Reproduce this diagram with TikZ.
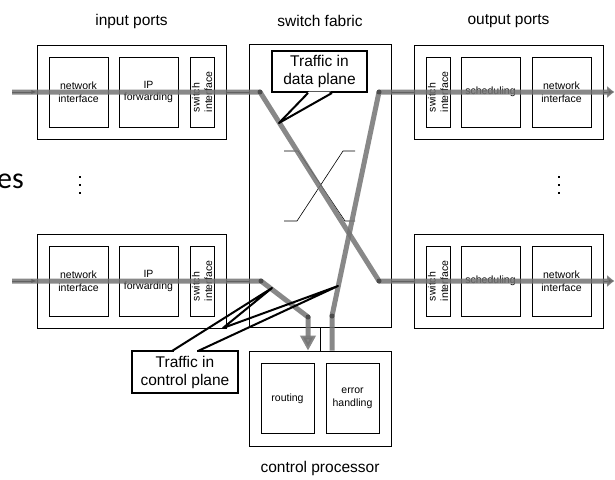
\documentclass[tikz,border=0pt]{standalone}
\usepackage{fontspec}
\setmainfont{Liberation Sans}
\newfontfamily\slidefont{Carlito}
\usetikzlibrary{arrows.meta,calc}
\tikzset{>=latex,
  outer/.style={draw,line width=0.8pt,minimum width=189pt,minimum height=94pt,inner sep=0pt},
  unit/.style={draw,line width=0.8pt,minimum width=#1,minimum height=70pt,inner sep=0pt,
    align=center,font=\fontsize{10.5}{12.5}\selectfont},
  unit/.default=59pt,
  vunit/.style={unit,rotate=90,minimum width=70pt,minimum height=24pt,align=left},
  lbl/.style={inner sep=0pt,font=\fontsize{15.5}{18}\selectfont},
  link/.style={line width=0.8pt},
  traffic/.style={draw=black!55,opacity=.85,line width=5pt,line join=round},
  callout/.style={draw,fill=white,line width=2pt,inner sep=0pt,align=center,
    font=\fontsize{15.5}{18}\selectfont},
  pointer/.style={line width=2pt,line join=round}
}

\begin{document}
\begin{tikzpicture}[x=1pt,y=-1pt]
    \useasboundingbox (0,0) rectangle (615,479);
    % ports, two rows
    \foreach \r/\y in {A/92,B/281}{
     \node[outer] (in\r) at (131.5,\y) {};
     \node[unit] (nif\r) at (78.5,\y) {network\\interface};
     \node[unit] (ipf\r) at (148.5,\y) {IP\\forwarding};
     \node[vunit] (swi\r) at (202,\y) {switch\\interface};
     \node[outer] (out\r) at (508.5,\y) {};
     \node[vunit] (swo\r) at (438,\y) {switch\\interface};
     \node[unit] (sch\r) at (490.5,\y) {scheduling};
     \node[unit] (nio\r) at (561.5,\y) {network\\interface};}
    \node[draw,line width=0.8pt,minimum width=142pt,minimum height=283pt] (fabric) at (320,185.5) {};
    \node[draw,line width=0.8pt,minimum width=142pt,minimum height=95pt] (ctrl) at (320,398.5) {};
    \node[unit=53pt] (rout) at (287.5,398.5) {routing};
    \node[unit=53pt] (errh) at (352.5,398.5) {error\\handling};
    % titles
    \node[lbl] (inlbl) at (131.5,21) {input ports};
    \node[lbl] (swlbl) at (320,21) {switch fabric};
    \node[lbl] (outlbl) at (508.5,21) {output ports};
    \node[lbl] (ctrllbl) at (320,468) {control processor};
    \node[inner sep=0pt,anchor=base east,font=\slidefont\fontsize{30}{30}\selectfont] (cut) at (24,188) {es};
    \foreach \x in {80,559}{
     \foreach \y in {177,185,193}{
      \fill (\x-1,\y-1) rectangle (\x+1,\y+1);}}
    % thin links
    \coordinate (srcA) at (12,92);
    \coordinate (srcB) at (12,281);
    \coordinate (dstA) at (614,92);
    \coordinate (dstB) at (614,281);
    \foreach \r in {A,B}{
     \draw[link,->] (src\r) -- (in\r.west);
     \draw[link] (in\r.east) -- (in\r.east -| fabric.west);
     \draw[link] (out\r.west -| fabric.east) -- (out\r.west);
     \draw[link,->] (out\r.east) -- (dst\r);}
    \draw[link] (fabric.south) -- (ctrl.north);
    % crossbar
    \draw[line width=0.6pt] (284,151) -- (298,151) -- (345,221) -- (355,221);
    \draw[line width=0.6pt] (284,221) -- (297,221) -- (343,151) -- (355,151);
    % traffic
    \coordinate (a1) at (260,92);
    \coordinate (a2) at (379,281);
    \coordinate (b1) at (379,92);
    \coordinate (b2) at (332,316);
    \coordinate (c1) at (261,281);
    \coordinate (c2) at (308,317);
    \draw[traffic,-{Triangle[width=11pt,length=7pt]}] (srcA) -- (a1) -- (a2) -- (dstB);
    \draw[traffic,-{Triangle[width=11pt,length=7pt]}] (b2 |- ctrl.north) -- (b2) -- (b1) -- (dstA);
    \draw[traffic,-{Triangle[width=15pt,length=15pt]}] (srcB) -- (c1) -- (c2) -- (c2 |- ctrl.north);
    \foreach \p in {a1,a2,b1,b2,c1,c2}
     \fill[black!70] (\p) circle (2.5pt);
    % callouts
    \node[callout,minimum width=95pt,minimum height=41pt] (dcall) at (319.5,71.5) {Traffic in\\data plane};
    \coordinate (dtip) at (279,123);
    \fill[white] ($(dcall.south)+(-10.5,-1.5)$) -- (dtip) -- ($(dcall.south)+(11.5,-1.5)$) -- cycle;
    \draw[pointer] ($(dcall.south)+(-11.5,0)$) -- (dtip) -- ($(dcall.south)+(12.5,0)$);
    \node[callout,minimum width=106pt,minimum height=42pt] (ccall) at (185,372) {Traffic in\\control plane};
    \coordinate (ctip1) at (272,288);
    \coordinate (ctip2) at (338,286);
    \fill[white] (173.5,349) rectangle (196.5,353);
    \draw[pointer] (172,351) -- (ctip1) -- (223,328) -- (ctip2) -- (198,351);
\end{tikzpicture}
\end{document}
